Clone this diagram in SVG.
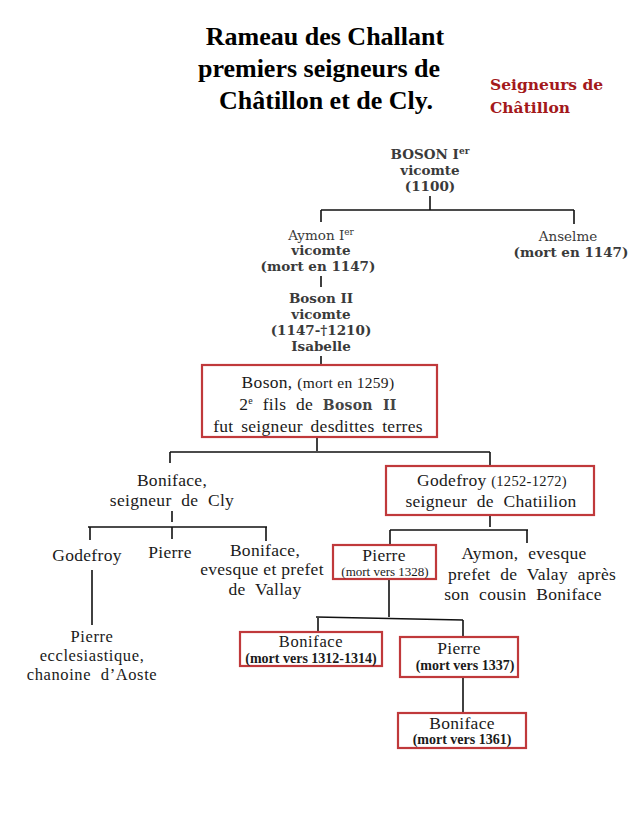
<svg xmlns="http://www.w3.org/2000/svg" width="643" height="817" viewBox="0 0 643 817">
<style>
text{font-family:"Liberation Serif","Times New Roman",serif;fill:#1a1a1a;text-anchor:middle}
.title{font-size:26px;font-weight:bold;fill:#000}
.red{font-family:"DejaVu Serif",serif;font-size:15.5px;font-weight:bold;fill:#a3191b;text-anchor:start}
.top{font-family:"DejaVu Serif",serif;font-size:13.5px;font-weight:bold;fill:#3a3a3a}
.anc{font-family:"DejaVu Serif",serif;font-size:13.5px;fill:#3a3a3a}
.n{font-size:17.5px;letter-spacing:0.3px}
.m{font-size:16.5px;letter-spacing:0.6px}
.w{word-spacing:5px}
.s{font-size:14px;font-weight:bold}
.sr{font-size:13px}
.box{fill:#fff;stroke:#c0393b;stroke-width:2.2}
.ln{stroke:#111;stroke-width:1.6;fill:none}
</style>
<rect width="643" height="817" fill="#fff"/>
<g id="title">
<text class="title" x="325" y="45">Rameau des Challant</text>
<text class="title" x="319" y="77">premiers seigneurs de</text>
<text class="title" x="326" y="109">Châtillon et de Cly.</text>
</g>
<g id="legend">
<text class="red" x="490" y="90">Seigneurs de</text>
<text class="red" x="490" y="113">Châtillon</text>
</g>
<g id="connectors">
<path class="ln" d="M430 196V210M321 210H574M321 210V222M574 210V224"/>
<path class="ln" d="M321 276V287M321 356V365"/>
<path class="ln" d="M317 437V451M170 452H490M170 452V463M490 452V466"/>
<path class="ln" d="M172 511V522M88 527H267M90 527V540M172 527V539M266 527V541"/>
<path class="ln" d="M490 515V527M390 530H528M390 530V545M527 530V543"/>
<path class="ln" d="M92 570V625"/>
<path class="ln" d="M389 579V617M316 617L463 620M318 617V632M463 620V637"/>
<path class="ln" d="M463 677V713"/>
</g>
<g id="boson1">
<text class="top" x="430" y="159">BOSON I<tspan font-size="9" dy="-5">er</tspan></text>
<text class="top" x="430" y="175">vicomte</text>
<text class="top" x="430" y="191">(1100)</text>
</g>
<g id="aymon1">
<text class="anc" x="321" y="240">Aymon I<tspan font-size="9" dy="-5">er</tspan></text>
<text class="top" x="321" y="255">vicomte</text>
<text class="top" x="318" y="271">(mort en 1147)</text>
</g>
<g id="anselme">
<text class="anc" x="568" y="241">Anselme</text>
<text class="top" x="571" y="257">(mort en 1147)</text>
</g>
<g id="boson2">
<text class="top" x="321" y="303">Boson II</text>
<text class="top" x="321" y="319">vicomte</text>
<text class="top" x="321" y="335">(1147-†1210)</text>
<text class="top" x="321" y="351">Isabelle</text>
</g>
<g id="boson1259">
<rect class="box" x="202" y="365" width="235" height="72"/>
<text class="n" x="318" y="388">Boson, <tspan font-size="15.5">(mort en 1259)</tspan></text>
<text class="n w" x="318" y="410">2<tspan font-size="10" dy="-6">e</tspan><tspan dy="6"> fils de </tspan><tspan font-family="DejaVu Serif" font-weight="bold" fill="#444" font-size="14">Boson II</tspan></text>
<text class="n" x="318" y="432" word-spacing="3">fut seigneur desdittes terres</text>
</g>
<g id="bonifaceCly">
<text class="n" x="172" y="486">Boniface,</text>
<text class="n w" x="172" y="506">seigneur de Cly</text>
</g>
<g id="godefroy1252">
<rect class="box" x="386" y="466" width="208" height="49"/>
<text class="n" x="492" y="486">Godefroy <tspan font-size="14.5">(1252-1272)</tspan></text>
<text class="n w" x="491" y="507">seigneur de Chatiilion</text>
</g>
<g id="godefroy">
<text class="n" x="87" y="561">Godefroy</text>
</g>
<g id="pierreCly">
<text class="n" x="170" y="558">Pierre</text>
</g>
<g id="bonifaceEvesque">
<text class="n" x="265" y="556">Boniface,</text>
<text class="n" x="262" y="575">evesque et prefet</text>
<text class="n w" x="265" y="595">de Vallay</text>
</g>
<g id="pierreEccl">
<text class="m" x="92" y="642">Pierre</text>
<text class="m" x="92" y="661">ecclesiastique,</text>
<text class="m w" x="92" y="680">chanoine d’Aoste</text>
</g>
<g id="pierre1328">
<rect class="box" x="333" y="545" width="103" height="34"/>
<text class="n" x="384" y="561">Pierre</text>
<text class="sr" x="385" y="576">(mort vers 1328)</text>
</g>
<g id="aymonEvesque">
<text class="n w" x="524" y="559">Aymon, evesque</text>
<text class="n w" x="532" y="580">prefet de Valay après</text>
<text class="n w" x="523" y="600">son cousin Boniface</text>
</g>
<g id="boniface1312">
<rect class="box" x="240" y="632" width="142" height="34"/>
<text class="m" x="311" y="647">Boniface</text>
<text class="s" x="311" y="663">(mort vers 1312-1314)</text>
</g>
<g id="pierre1337">
<rect class="box" x="400" y="637" width="118" height="40"/>
<text class="n" x="459" y="654">Pierre</text>
<text class="s" x="465" y="670">(mort vers 1337)</text>
</g>
<g id="boniface1361">
<rect class="box" x="398" y="713" width="128" height="35"/>
<text class="n" x="462" y="729">Boniface</text>
<text class="s" x="462" y="744">(mort vers 1361)</text>
</g>
</svg>
